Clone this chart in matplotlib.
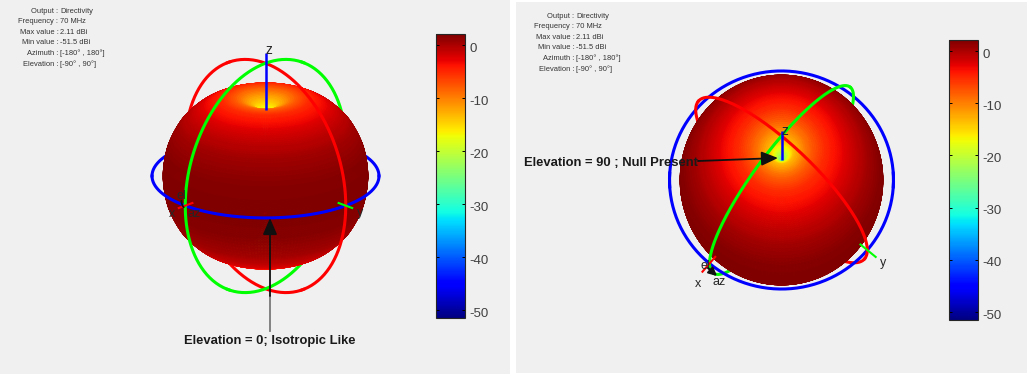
import numpy as np
import matplotlib
matplotlib.use("Agg")
import matplotlib.pyplot as plt
from matplotlib.collections import PolyCollection
from matplotlib.cm import ScalarMappable
from matplotlib.colors import Normalize
from matplotlib.patches import Rectangle
from matplotlib.transforms import ScaledTranslation

plt.rcParams['font.family'] = ['Liberation Sans', 'DejaVu Sans']
plt.rcParams['axes.unicode_minus'] = False

# ---------- data ----------
info_labels = ["Output", "Frequency", "Max value", "Min value", "Azimuth", "Elevation"]
info_values = ["Directivity", "70 MHz", "2.11 dBi", "-51.5 dBi", "[-180° , 180°]", "[-90° , 90°]"]
cbar_ticks = [0, -10, -20, -30, -40, -50]
dir_min = -51.5
dir_max = 2.11
# directivity (dBi) against |elevation| (degrees)
elev_deg = [0, 15, 30, 45, 60, 70, 80, 85, 88, 90]
elev_dbi = [2.11, 1.7, 0.4, -2.0, -5.0, -8.5, -13.5, -20.0, -27.0, -30.0]

FIG_W, FIG_H = 1027, 374
fig = plt.figure(figsize=(FIG_W / 100, FIG_H / 100), dpi=100, facecolor='white')
ax = fig.add_axes([0, 0, 1, 1])
ax.set_xlim(0, FIG_W)
ax.set_ylim(FIG_H, 0)
ax.axis('off')

BG = '#f0f0f0'
ax.add_patch(Rectangle((0, 0), 510, 374, fc=BG, ec='none', zorder=0))
ax.add_patch(Rectangle((516, 2), 511, 371, fc=BG, ec='none', zorder=0))

norm = Normalize(dir_min, dir_max)
cmap = plt.get_cmap('jet')


def project(p, view, cx, cy, stretch):
    x, y, z = p
    e = np.radians(view[0])
    a = np.radians(view[1])
    vx, vy = np.cos(a), np.sin(a)
    sx = y * vx - x * vy
    up = z * np.cos(e) - (x * vx + y * vy) * np.sin(e)
    depth = (x * vx + y * vy) * np.cos(e) + z * np.sin(e)
    return cx + sx, cy - stretch * up, depth


def radius(dbi, r_eq):
    return r_eq * (np.asarray(dbi) - dir_min) / (dir_max - dir_min)


def surface(view, cx, cy, stretch, r_eq):
    el = np.unique(np.r_[np.linspace(-90, -78, 30), np.linspace(-78, 78, 130), np.linspace(78, 90, 30)])
    az = np.radians(np.linspace(-180, 180, 181))
    db = np.interp(np.abs(el), elev_deg, elev_dbi)
    r = radius(db, r_eq)
    er = np.radians(el)
    E, A = np.meshgrid(er, az, indexing='ij')
    R = np.repeat(r[:, None], az.size, axis=1)
    P = (R * np.cos(E) * np.cos(A), R * np.cos(E) * np.sin(A), R * np.sin(E))
    sx, sy, d = project(P, view, cx, cy, stretch)
    verts = np.stack([
        np.stack([sx[:-1, :-1], sy[:-1, :-1]], -1),
        np.stack([sx[1:, :-1], sy[1:, :-1]], -1),
        np.stack([sx[1:, 1:], sy[1:, 1:]], -1),
        np.stack([sx[:-1, 1:], sy[:-1, 1:]], -1)], axis=2).reshape(-1, 4, 2)
    depth = (d[:-1, :-1] + d[1:, 1:]).ravel() / 2
    val = np.repeat(((db[:-1] + db[1:]) / 2)[:, None], az.size - 1, axis=1).ravel()
    order = np.argsort(depth)
    cols = cmap(norm(val[order]))
    pc = PolyCollection(verts[order], facecolors=cols, edgecolors=cols, linewidths=0.5, zorder=2)
    ax.add_collection(pc)


def ring(plane, view, cx, cy, stretch, r, color):
    t = np.radians(np.arange(0, 361, 1.0))
    if plane == 'xy':
        p = (r * np.cos(t), r * np.sin(t), 0 * t)
    elif plane == 'xz':
        p = (r * np.cos(t), 0 * t, r * np.sin(t))
    else:
        p = (0 * t, r * np.cos(t), r * np.sin(t))
    sx, sy, d = project(p, view, cx, cy, stretch)
    ax.plot(sx, np.ma.masked_where(d > 3, sy), color=color, lw=2.2, zorder=1, solid_capstyle='round')
    ax.plot(sx, np.ma.masked_where(d < -3, sy), color=color, lw=2.2, zorder=3, solid_capstyle='round')


def seg(p0, p1, view, cx, cy, stretch, color, lw, z=4):
    sx0, sy0, _ = project(p0, view, cx, cy, stretch)
    sx1, sy1, _ = project(p1, view, cx, cy, stretch)
    ax.plot([sx0, sx1], [sy0, sy1], color=color, lw=lw, zorder=z, solid_capstyle='butt')


def panel(view, cx, cy, stretch, r_eq, r_ring, z_start):
    surface(view, cx, cy, stretch, r_eq)
    ring('xy', view, cx, cy, stretch, r_ring, '#0000ff')
    ring('yz', view, cx, cy, stretch, r_ring, '#ff0000')
    ring('xz', view, cx, cy, stretch, r_ring, '#00ff00')
    seg((0, 0, z_start), (0, 0, 124), view, cx, cy, stretch, '#0000ff', 1.8)
    seg((102, 0, 0), (124, 0, 0), view, cx, cy, stretch, '#ff0000', 1.5)
    seg((0, 102, 0), (0, 124, 0), view, cx, cy, stretch, '#00ff00', 1.5)


def info(x_colon, y0):
    dy = 10.6
    for i, (a, b) in enumerate(zip(info_labels, info_values)):
        y = y0 + i * dy
        ax.text(x_colon + 0.5, y, a + " :", ha='right', va='center', fontsize=5.4, color='#333333', zorder=6)
        ax.text(x_colon + 2, y, b, ha='left', va='center', fontsize=5.4, color='#333333', zorder=6)


def cbar(x0, x1, y0, y1, shift_px):
    cax = fig.add_axes([x0 / FIG_W, 1 - y1 / FIG_H, (x1 - x0) / FIG_W, (y1 - y0) / FIG_H])
    cb = fig.colorbar(ScalarMappable(norm=norm, cmap=cmap), cax=cax)
    cb.set_ticks(cbar_ticks)
    cb.ax.tick_params(direction='in', left=True, right=True, length=2.5, width=0.7,
                      labelsize=9.5, labelcolor='#404040', pad=3)
    cb.outline.set_linewidth(0.8)
    cb.outline.set_edgecolor('#262626')
    off = ScaledTranslation(0, -shift_px / 100, fig.dpi_scale_trans)
    for t in cb.ax.get_yticklabels():
        t.set_transform(t.get_transform() + off)


def lab(x, y, s, fs=9):
    ax.text(x, y, s, ha='center', va='center', fontsize=fs, color='#262626', zorder=6)


HEAD = 'fancy,head_length=0.9,head_width=0.5,tail_width=0.01'
HEAD2 = '-|>,head_length=1.0,head_width=0.43'

# ---------- left panel ----------
panel((20.4, 45), 265.5, 176, 1.06, 102.5, 113.5, 66)
info(58, 11)
cbar(435.5, 465, 34, 318, 2.5)
lab(269, 50, 'z', 10); lab(172, 214, 'x'); lab(360, 213, 'y')
lab(181, 196, 'el'); lab(194, 214, 'az')
ax.annotate('', xy=(186, 209), xytext=(182, 198),
            arrowprops=dict(arrowstyle='-', color='#101010', lw=1.2, connectionstyle='arc3,rad=0.4'), zorder=6)
ax.plot([270, 270], [296, 331], color='#7a7a7a', lw=1.3, zorder=5)
ax.annotate('', xy=(270, 218), xytext=(270, 296),
            arrowprops=dict(arrowstyle=HEAD2, color='#101010', lw=1.3,
                            shrinkA=0, shrinkB=0, mutation_scale=10), zorder=6)
ax.text(270, 341, 'Elevation = 0; Isotropic Like', ha='center', va='center', fontsize=9.4,
        fontweight='bold', color='#1a1a1a', zorder=6)

# ---------- right panel ----------
panel((68, 40), 781.5, 180, 1.05, 101.5, 112, 51)
info(574, 16)
cbar(949, 978, 40, 320, 2)
lab(785, 131, 'z', 10); lab(698, 284, 'x'); lab(883, 263, 'y')
lab(705, 266, 'el'); lab(719, 282, 'az')
ax.annotate('', xy=(717, 276), xytext=(708, 268),
            arrowprops=dict(arrowstyle='-|>,head_length=0.4,head_width=0.2', color='#101010', lw=1.5,
                            shrinkA=0, shrinkB=0, mutation_scale=12), zorder=6)
ax.annotate('', xy=(778, 158), xytext=(698, 161),
            arrowprops=dict(arrowstyle=HEAD2, color='#101010', lw=1.3,
                            shrinkA=0, shrinkB=0, mutation_scale=10), zorder=6)
ax.text(611, 162.5, 'Elevation = 90 ; Null Present', ha='center', va='center', fontsize=9.4,
        fontweight='bold', color='#1a1a1a', zorder=6)

fig.savefig('out.png', dpi=100, facecolor='white')
